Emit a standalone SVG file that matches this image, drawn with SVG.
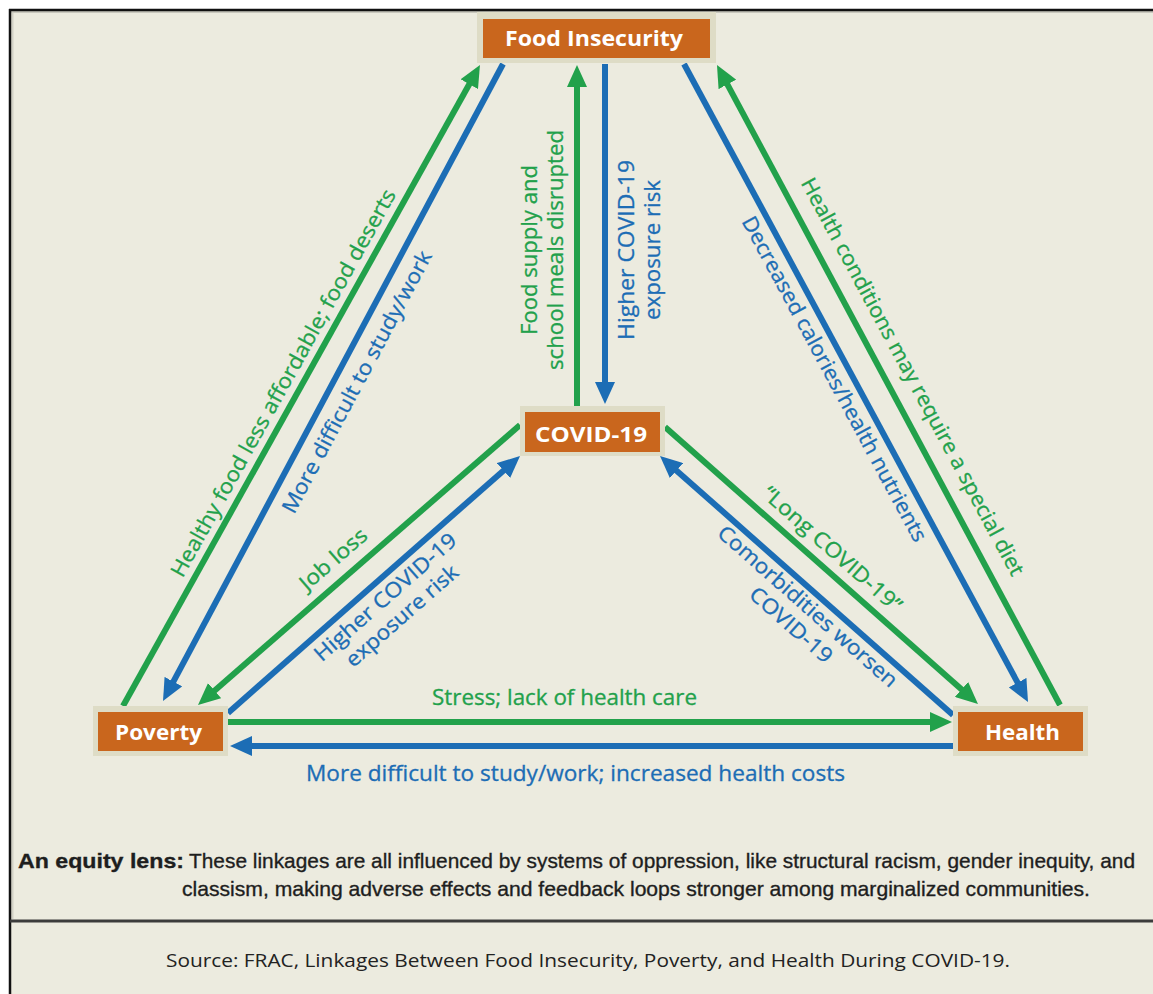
<svg xmlns="http://www.w3.org/2000/svg" width="1153" height="994" viewBox="0 0 1153 994">
<defs>
<style>
.g{stroke:#22A14B;stroke-width:6;fill:none}
.b{stroke:#1C6DB5;stroke-width:6;fill:none}
.lg{font-family:"Open Sans","DejaVu Sans",sans-serif;font-size:21px;fill:#22A14B;text-anchor:middle;stroke:#22A14B;stroke-width:0.3}
.lb{font-family:"Open Sans","DejaVu Sans",sans-serif;font-size:21px;fill:#1C6DB5;text-anchor:middle;stroke:#1C6DB5;stroke-width:0.3}
.outer{fill:#DEDCC6}
.box{fill:#C9661D}
.nt{font-family:"Open Sans","DejaVu Sans",sans-serif;font-size:22px;font-weight:bold;fill:#FFFFFF;text-anchor:middle}
.foot{font-family:"Liberation Sans",Arial,sans-serif;font-size:21px;fill:#1E1E1E;stroke:#1E1E1E;stroke-width:0.35}
</style>
<marker id="ag" markerUnits="userSpaceOnUse" markerWidth="22" markerHeight="20" refX="4" refY="10" orient="auto"><path d="M0,0 L22,10 L0,20 z" fill="#22A14B"/></marker>
<marker id="ab" markerUnits="userSpaceOnUse" markerWidth="22" markerHeight="20" refX="4" refY="10" orient="auto"><path d="M0,0 L22,10 L0,20 z" fill="#1C6DB5"/></marker>
</defs>
<rect x="0" y="0" width="1153" height="994" fill="#FFFFFF"/>
<rect x="10" y="10" width="1143" height="984" fill="#ECEBDF"/>
<line x1="12.5" y1="11" x2="12.5" y2="919" stroke="#D2D1C6" stroke-width="2"/>
<line x1="11" y1="12" x2="1153" y2="12" stroke="#C9C8BE" stroke-width="2"/>
<line x1="9" y1="10" x2="1153" y2="10" stroke="#111" stroke-width="2.5"/>
<line x1="10" y1="9" x2="10" y2="994" stroke="#111" stroke-width="2.5"/>
<line x1="10" y1="921" x2="1153" y2="921" stroke="#3C3C3C" stroke-width="3"/>

<g id="connectors">
<line class="g" x1="123" y1="706" x2="471.2" y2="80.7" marker-end="url(#ag)"/>
<line class="b" x1="503" y1="64" x2="171.5" y2="685.1" marker-end="url(#ab)"/>
<line class="g" x1="577" y1="406" x2="577" y2="83" marker-end="url(#ag)"/>
<line class="b" x1="605" y1="64" x2="605" y2="386" marker-end="url(#ab)"/>
<line class="b" x1="684" y1="64" x2="1019.5" y2="686.2" marker-end="url(#ab)"/>
<line class="g" x1="1060" y1="705" x2="725.5" y2="80.9" marker-end="url(#ag)"/>
<line class="g" x1="520" y1="425" x2="211.6" y2="693.2" marker-end="url(#ag)"/>
<line class="b" x1="228" y1="713" x2="506.5" y2="467.9" marker-end="url(#ab)"/>
<line class="g" x1="665" y1="427" x2="964.5" y2="692.1" marker-end="url(#ag)"/>
<line class="b" x1="953" y1="715" x2="673.5" y2="467.9" marker-end="url(#ab)"/>
<line class="g" x1="228" y1="722" x2="934" y2="722" marker-end="url(#ag)"/>
<line class="b" x1="953" y1="746" x2="248" y2="746" marker-end="url(#ab)"/>

<text class="lg" transform="translate(289.5,386.5) rotate(-60.9)" textLength="440" lengthAdjust="spacingAndGlyphs">Healthy food less affordable; food deserts</text>
<text class="lb" transform="translate(363.2,385.4) rotate(-61.9)" textLength="294" lengthAdjust="spacingAndGlyphs">More difficult to study/work</text>
<g transform="translate(563,250) rotate(-90)">
<text class="lg" x="0" y="-26" textLength="170" lengthAdjust="spacingAndGlyphs">Food supply and</text>
<text class="lg" x="0" y="0" textLength="240" lengthAdjust="spacingAndGlyphs">school meals disrupted</text>
</g>
<g transform="translate(634,250) rotate(-90)">
<text class="lb" x="0" y="0" textLength="180" lengthAdjust="spacingAndGlyphs">Higher COVID-19</text>
<text class="lb" x="0" y="26" textLength="140" lengthAdjust="spacingAndGlyphs">exposure risk</text>
</g>
<text class="lb" transform="translate(828.1,382.4) rotate(61.7)" textLength="366" lengthAdjust="spacingAndGlyphs">Decreased calories/health nutrients</text>
<text class="lg" transform="translate(906.3,380.1) rotate(61.8)" textLength="448" lengthAdjust="spacingAndGlyphs">Health conditions may require a special diet</text>
<text class="lg" transform="translate(338,564.5) rotate(-41)" textLength="82" lengthAdjust="spacingAndGlyphs">Job loss</text>
<g transform="translate(390,602.5) rotate(-41.35)">
<text class="lb" x="0" y="0" textLength="182" lengthAdjust="spacingAndGlyphs">Higher COVID-19</text>
<text class="lb" x="0" y="25" textLength="142" lengthAdjust="spacingAndGlyphs">exposure risk</text>
</g>
<text class="lg" transform="translate(827.5,554.7) rotate(41.5)" textLength="178" lengthAdjust="spacingAndGlyphs">“Long COVID-19”</text>
<g transform="translate(802.9,611.7) rotate(41.47)">
<text class="lb" x="0" y="0" textLength="232" lengthAdjust="spacingAndGlyphs">Comorbidities worsen</text>
<text class="lb" x="0" y="25" textLength="103" lengthAdjust="spacingAndGlyphs">COVID-19</text>
</g>
<text class="lg" x="564.5" y="705" textLength="265" lengthAdjust="spacingAndGlyphs">Stress; lack of health care</text>
<text class="lb" x="575.5" y="781" textLength="539" lengthAdjust="spacingAndGlyphs">More difficult to study/work; increased health costs</text>
</g>

<g id="node-food-insecurity">
<rect class="outer" x="477" y="12" width="239" height="51"/>
<rect class="box" x="483" y="19" width="227" height="39"/>
<text class="nt" x="594" y="46" textLength="178" lengthAdjust="spacingAndGlyphs">Food Insecurity</text>
</g>
<g id="node-covid">
<rect class="outer" x="520" y="406" width="145" height="50"/>
<rect class="box" x="525" y="412" width="135" height="40"/>
<text class="nt" x="591" y="442" textLength="112" lengthAdjust="spacingAndGlyphs">COVID-19</text>
</g>
<g id="node-poverty">
<rect class="outer" x="93" y="706" width="135" height="50"/>
<rect class="box" x="98" y="712" width="125" height="39"/>
<text class="nt" x="158.5" y="740" textLength="87" lengthAdjust="spacingAndGlyphs">Poverty</text>
</g>
<g id="node-health">
<rect class="outer" x="953" y="706" width="135" height="50"/>
<rect class="box" x="958" y="712" width="125" height="39"/>
<text class="nt" x="1022.5" y="740" textLength="75" lengthAdjust="spacingAndGlyphs">Health</text>
</g>

<g id="footnote">
<text class="foot" x="18" y="868" font-weight="bold" fill="#000" textLength="166" lengthAdjust="spacingAndGlyphs">An equity lens:</text>
<text class="foot" x="189" y="868" textLength="946" lengthAdjust="spacingAndGlyphs">These linkages are all influenced by systems of oppression, like structural racism, gender inequity, and</text>
<text class="foot" x="182" y="896" textLength="908" lengthAdjust="spacingAndGlyphs">classism, making adverse effects and feedback loops stronger among marginalized communities.</text>
</g>
<text x="588" y="967" font-family="'Open Sans','DejaVu Sans',sans-serif" font-size="18" fill="#222" text-anchor="middle" textLength="844" lengthAdjust="spacingAndGlyphs">Source: FRAC, Linkages Between Food Insecurity, Poverty, and Health During COVID-19.</text>
</svg>
